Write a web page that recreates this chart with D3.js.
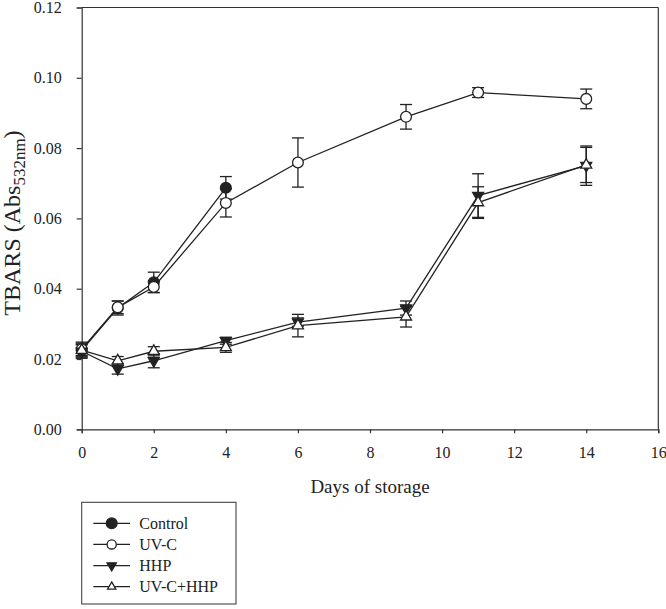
<!DOCTYPE html>
<html>
<head>
<meta charset="utf-8">
<script src="https://cdn.jsdelivr.net/npm/d3@7"></script>
<style>
  html, body { margin: 0; padding: 0; background: #fff; }
  svg { display: block; }
  text { font-family: "Liberation Serif", "Times New Roman", serif; fill: #222; }
</style>
</head>
<body>
<svg id="chart" width="666" height="609"></svg>
<script>
// ---- data ----
const seriesNames = ["Control", "UV-C", "HHP", "UV-C+HHP"];
const controlDays = [0, 1, 2, 4];
const controlValues = [0.0225, 0.0345, 0.0418, 0.0687];
const controlErr = [0.0015, 0.0020, 0.0029, 0.0032];
const days = [0, 1, 2, 4, 6, 9, 11, 14];
const uvcValues = [0.0228, 0.0347, 0.0405, 0.0644, 0.0759, 0.0889, 0.0958, 0.0940];
const uvcErr = [0.0020, 0.0018, 0.0016, 0.0040, 0.0070, 0.0035, 0.0014, 0.0028];
const hhpValues = [0.0222, 0.0172, 0.0195, 0.0252, 0.0305, 0.0345, 0.0665, 0.0750];
const hhpErr = [0.0020, 0.0015, 0.0020, 0.0010, 0.0012, 0.0020, 0.0062, 0.0056];
const comboValues = [0.0225, 0.0195, 0.0222, 0.0233, 0.0295, 0.0320, 0.0645, 0.0752];
const comboErr = [0.0020, 0.0012, 0.0013, 0.0014, 0.0032, 0.0029, 0.0045, 0.0050];
const xTicks = [0, 2, 4, 6, 8, 10, 12, 14, 16];
const yTicks = [0.00, 0.02, 0.04, 0.06, 0.08, 0.10, 0.12];
const xTitle = "Days of storage";

// ---- layout ----
const L = 81.7, R = 658.3, T = 7.5, B = 429.3;
const ink = "#222";
const svg = d3.select("#chart");
const x = d3.scaleLinear().domain([0, 16]).range([L, R]);
const y = d3.scaleLinear().domain([0, 0.12]).range([B, T]);

const zip = (ds, vs, es) => ds.map((d, i) => ({ d, v: vs[i], e: es[i] }));
const series = [
  { name: seriesNames[0], pts: zip(controlDays, controlValues, controlErr), sym: "circle", fill: ink },
  { name: seriesNames[1], pts: zip(days, uvcValues, uvcErr), sym: "circle", fill: "#fff" },
  { name: seriesNames[2], pts: zip(days, hhpValues, hhpErr), sym: "down", fill: ink },
  { name: seriesNames[3], pts: zip(days, comboValues, comboErr), sym: "up", fill: "#fff" }
];

// ---- frame ----
svg.append("line").attr("x1", L).attr("x2", R).attr("y1", T).attr("y2", T)
  .attr("stroke", "#333").attr("stroke-width", 1.2);
svg.append("line").attr("x1", R).attr("x2", R).attr("y1", T).attr("y2", B)
  .attr("stroke", "#333").attr("stroke-width", 1.2);

// ---- axes ----
const fmt = d3.format(".2f");
const yAxis = svg.append("g").attr("transform", `translate(${L},0)`)
  .call(d3.axisLeft(y).tickValues(yTicks).tickFormat(fmt).tickSize(5).tickPadding(15));
const xAxis = svg.append("g").attr("transform", `translate(0,${B})`)
  .call(d3.axisBottom(x).tickValues(xTicks).tickFormat(d3.format("d")).tickSize(4).tickPadding(13));
[yAxis, xAxis].forEach(g => {
  g.select(".domain").attr("stroke", "#333").attr("stroke-width", 1.2);
  g.selectAll(".tick line").attr("stroke", "#333").attr("stroke-width", 1.2);
  g.selectAll(".tick text").attr("font-family", "Liberation Serif").attr("font-size", 16).attr("fill", "#222");
});

// axis titles
svg.append("text").attr("x", (L + R) / 2).attr("y", 493).attr("text-anchor", "middle")
  .attr("font-size", 19).text(xTitle);
const yt = svg.append("text").attr("transform", "translate(20,223) rotate(-90)")
  .attr("text-anchor", "middle").attr("font-size", 24);
yt.append("tspan").text("TBARS (Abs");
yt.append("tspan").attr("font-size", 17).attr("dy", 5).text("532nm");
yt.append("tspan").attr("dy", -5).text(")");

// ---- marks ----
const lineGen = d3.line().x(p => x(p.d)).y(p => y(p.v));
const plot = svg.append("g");
series.forEach(s => {
  plot.append("path").attr("d", lineGen(s.pts)).attr("fill", "none")
    .attr("stroke", ink).attr("stroke-width", 1.3);
});
const capW = 6;
series.forEach(s => {
  const g = plot.append("g").attr("stroke", ink).attr("stroke-width", 1.3);
  s.pts.forEach(p => {
    const cx = x(p.d), y1 = y(p.v - p.e), y2 = y(p.v + p.e);
    g.append("line").attr("x1", cx).attr("x2", cx).attr("y1", y1).attr("y2", y2);
    g.append("line").attr("x1", cx - capW).attr("x2", cx + capW).attr("y1", y1).attr("y2", y1);
    g.append("line").attr("x1", cx - capW).attr("x2", cx + capW).attr("y1", y2).attr("y2", y2);
  });
});

function drawSymbol(g, sym, fill, cx, cy, scale) {
  if (sym === "circle") {
    g.append("circle").attr("cx", cx).attr("cy", cy).attr("r", 5.4 * scale)
      .attr("fill", fill).attr("stroke", ink).attr("stroke-width", 1.3);
  } else {
    const w = 11 * scale;
    const area = Math.sqrt(3) / 4 * w * w;
    g.append("path").attr("d", d3.symbol().type(d3.symbolTriangle).size(area)())
      .attr("transform", `translate(${cx},${cy})` + (sym === "down" ? " rotate(180)" : ""))
      .attr("fill", fill).attr("stroke", ink).attr("stroke-width", 1.3);
  }
}
series.forEach(s => {
  const g = plot.append("g");
  s.pts.forEach(p => drawSymbol(g, s.sym, s.fill, x(p.d), y(p.v), 1));
});

// ---- legend ----
const lg = svg.append("g");
lg.append("rect").attr("x", 81.7).attr("y", 502.3).attr("width", 154.3).attr("height", 101.7)
  .attr("fill", "#fff").attr("stroke", "#444").attr("stroke-width", 1.1);
const legendY = d3.scalePoint().domain(seriesNames).range([523.3, 586.7]);
series.forEach((s, i) => {
  const cy = legendY(s.name);
  lg.append("line").attr("x1", 93.3).attr("x2", 130).attr("y1", cy).attr("y2", cy)
    .attr("stroke", ink).attr("stroke-width", 1.3);
  const sc = [1.0, 0.85, 0.85, 0.75][i];
  drawSymbol(lg, s.sym, s.fill, 111.7, cy, sc);
  lg.append("text").attr("x", 139.3).attr("y", cy).attr("dy", "0.33em")
    .attr("font-size", 16).text(s.name);
});
</script>
</body>
</html>
